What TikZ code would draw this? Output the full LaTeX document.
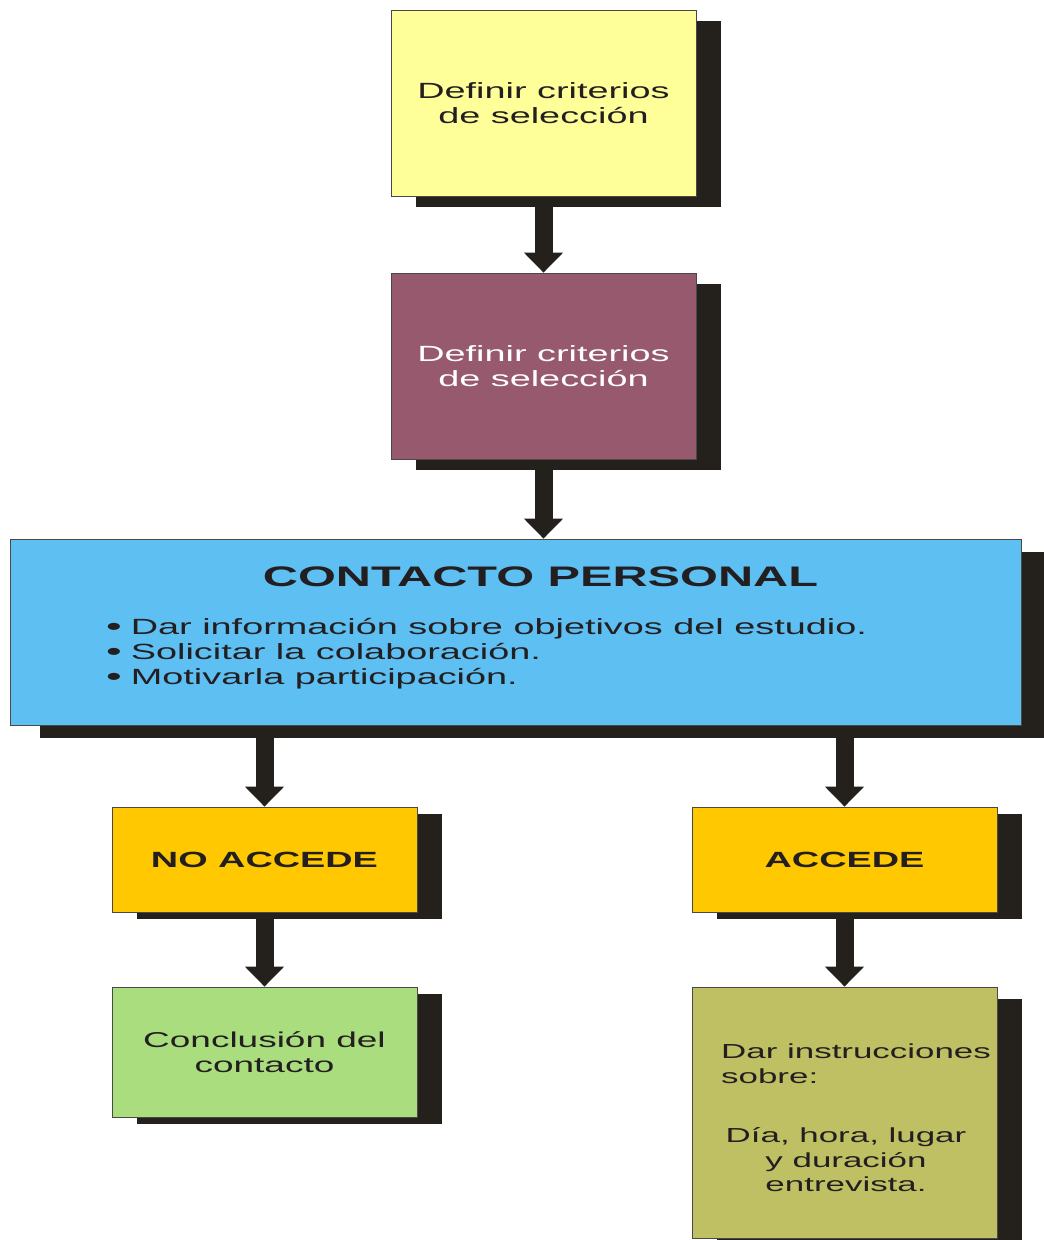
\documentclass[tikz,border=0pt]{standalone}
\usepackage{fontspec}
\setmainfont{Liberation Sans}[FakeStretch=1.72]
\usetikzlibrary{arrows.meta,shadows,calc}
\definecolor{yelc}{HTML}{FFFF99}
\definecolor{maroc}{HTML}{96596E}
\definecolor{bluec}{HTML}{5EBFF3}
\definecolor{orac}{HTML}{FFC800}
\definecolor{grnc}{HTML}{A9DD7D}
\definecolor{olvc}{HTML}{BFBF64}
\definecolor{shadowc}{HTML}{24211D}
\definecolor{txtc}{HTML}{231F20}
\definecolor{edgec}{HTML}{4A4846}
\newcommand\itemdot{\smash{\raisebox{-1pt}{\fontsize{26}{25}\selectfont •}}\hspace{9pt}}
\tikzset{
  box/.style={draw=edgec, line width=0.8pt, minimum width=305pt, inner sep=0pt,
    align=center, text=txtc, font=\fontsize{22}{25}\selectfont},
  shadowed/.style 2 args={drop shadow={shadow xshift=#1, shadow yshift=#2,
    fill=shadowc, opacity=1}},
  flow/.style={draw=shadowc, line width=18pt, -{Triangle[width=38pt,length=20pt]}},
  plain/.style={text=txtc, font=\fontsize{22}{25}\selectfont, inner sep=2pt}
}
\begin{document}
\begin{tikzpicture}[x=1pt,y=-1pt]
\useasboundingbox (0,0) rectangle (1044,1240);
% top boxes
\node[box, shadowed={25pt}{-11pt}, fill=yelc, minimum height=186pt] (crit) at (543.5,103) {Definir criterios\\de selección};
\node[box, shadowed={25pt}{-11pt}, fill=maroc, text=white, minimum height=186pt] (critb) at (543.5,366) {Definir criterios\\de selección};
% contact box
\node[box, shadowed={30pt}{-13pt}, fill=bluec, minimum width=1011pt, minimum height=186pt] (contacto) at (515.5,632) {};
\node[plain, font=\fontsize{28.3}{30}\selectfont\bfseries] (head) at (540.5,577) {CONTACTO PERSONAL};
\node[plain, anchor=west, align=left] (items) at (104,654) {\itemdot Dar información sobre objetivos del estudio.\\\itemdot Solicitar la colaboración.\\\itemdot Motivarla participación.};
% answers
\node[box, shadowed={25pt}{-7pt}, fill=orac, minimum height=105pt, font=\fontsize{22}{25}\selectfont\bfseries] (noacc) at (264.5,859.5) {NO ACCEDE};
\node[box, shadowed={25pt}{-7pt}, fill=orac, minimum height=105pt, font=\fontsize{22}{25}\selectfont\bfseries] (acc) at (844.5,859.5) {ACCEDE};
\node[box, shadowed={25pt}{-7pt}, fill=grnc, minimum height=130pt, font=\fontsize{21.5}{24.5}\selectfont] (concl) at (264.5,1052) {Conclusión del\\contacto};
\node[box, shadowed={25pt}{-12pt}, fill=olvc, minimum height=251pt] (instr) at (844.5,1112.5) {};
\node[plain, anchor=north west, align=left, font=\fontsize{20.3}{25}\selectfont] (instra) at (719,1042) {Dar instrucciones\\sobre:};
\node[plain, align=center, font=\fontsize{20.3}{24.5}\selectfont] (instrb) at (846,1160) {Día, hora, lugar\\y duración\\entrevista.};
% connectors
\draw[flow] ($(crit.south)+(0,11)$) -- (critb.north);
\draw[flow] ($(critb.south)+(0,11)$) -- (contacto.north -| critb.north);
\draw[flow] ($(contacto.south -| noacc.north)+(0,13)$) -- (noacc.north);
\draw[flow] ($(contacto.south -| acc.north)+(0,13)$) -- (acc.north);
\draw[flow] ($(noacc.south)+(0,7)$) -- (concl.north);
\draw[flow] ($(acc.south)+(0,7)$) -- (instr.north);
\end{tikzpicture}
\end{document}
